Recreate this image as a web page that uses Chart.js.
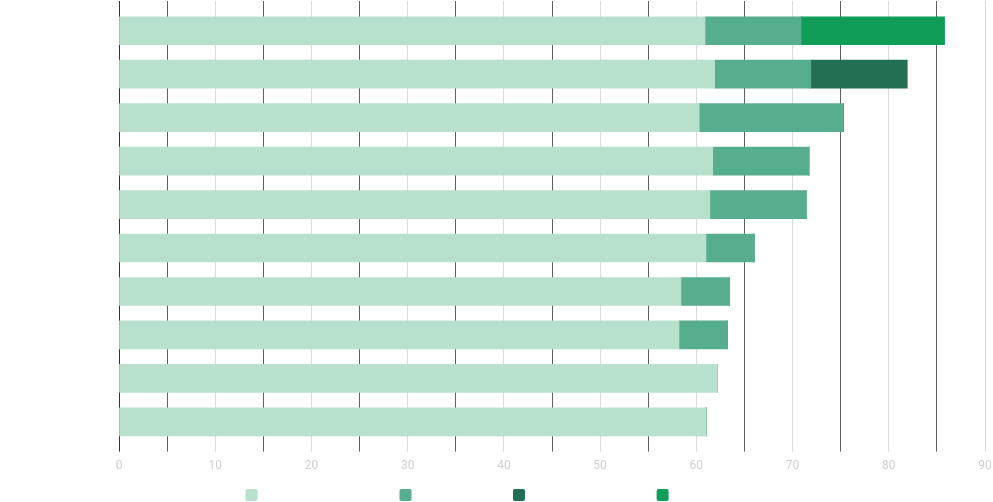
<!DOCTYPE html>
<html>
<head>
<meta charset="utf-8">
<script src="https://cdn.jsdelivr.net/npm/chart.js@4/dist/chart.umd.min.js"></script>
<style>
  html, body { margin: 0; padding: 0; background: #ffffff; overflow: hidden; }
  #wrap { width: 993px; height: 511px; position: relative; }
</style>
</head>
<body>
<div id="wrap"><canvas id="c"></canvas></div>
<script>
const categories = ['Item 1', 'Item 2', 'Item 3', 'Item 4', 'Item 5', 'Item 6', 'Item 7', 'Item 8', 'Item 9', 'Item 10'];
const seriesNames = ['Baseline allocations (%)', 'First increments', 'Second increment (%)', 'Top-up bonus'];
const baseValues   = [60.9, 61.9, 60.3, 61.7, 61.4, 61.0, 58.4, 58.2, 62.2, 61.0];
const firstValues  = [10.0, 10.0, 15.0, 10.0, 10.0, 5.0, 5.0, 5.0, 0, 0];
const secondValues = [0, 10.0, 0, 0, 0, 0, 0, 0, 0, 0];
const bonusValues  = [14.9, 0, 0, 0, 0, 0, 0, 0, 0, 0];
const xTicks = [0, 10, 20, 30, 40, 50, 60, 70, 80, 90];

const colors = ['#b7e1cd', '#57ae8e', '#226f54', '#0f9d58'];
const seriesValues = [baseValues, firstValues, secondValues, bonusValues];

function gridColor(ctx) {
  const v = ctx.tick ? ctx.tick.value : null;
  if (v === 0) return '#333333';
  if (v % 10 === 0) return '#dadada';
  return '#5f5f5f';
}

const xCommon = {
  type: 'linear',
  min: 0,
  max: 90,
  stacked: true,
  border: { display: false },
};

new Chart(document.getElementById('c'), {
  type: 'bar',
  data: {
    labels: categories,
    datasets: seriesNames.map((name, i) => ({
      label: name,
      data: seriesValues[i],
      backgroundColor: colors[i],
      borderWidth: 0,
      barThickness: 28,
      xAxisID: 'x',
    }))
  },
  options: {
    indexAxis: 'y',
    responsive: true,
    maintainAspectRatio: false,
    animation: false,
    layout: { padding: { top: 1, left: 0, right: 0, bottom: 0 } },
    font: { family: 'Roboto' },
    scales: {
      x: Object.assign({}, xCommon, {
        position: 'bottom',
        grid: { color: gridColor, tickLength: 8, drawTicks: true },
        ticks: {
          stepSize: 5,
          autoSkip: false,
          maxRotation: 0,
          padding: 7,
          color: '#cfcfcf',
          font: { family: 'Roboto', size: 12 },
          callback: (v) => xTicks.includes(v) ? String(v) : ''
        },
        afterFit: (scale) => { scale.paddingRight = 8; }
      }),
      x2: Object.assign({}, xCommon, {
        position: 'top',
        grid: { color: gridColor, tickLength: 8, drawTicks: true, drawOnChartArea: false },
        ticks: { stepSize: 5, autoSkip: false, display: false },
        afterFit: (scale) => { scale.paddingRight = 0; }
      }),
      y: {
        type: 'category',
        stacked: true,
        grid: { display: false },
        border: { display: false },
        ticks: { display: false },
        afterFit: (scale) => { scale.width = 119; }
      }
    },
    plugins: {
      legend: {
        position: 'bottom',
        labels: {
          boxWidth: 12,
          boxHeight: 12,
          useBorderRadius: true,
          borderRadius: 2,
          padding: 9,
          color: '#ffffff',
          font: { family: 'Roboto', size: 12 }
        }
      },
      tooltip: { enabled: false }
    }
  }
});
</script>
</body>
</html>
